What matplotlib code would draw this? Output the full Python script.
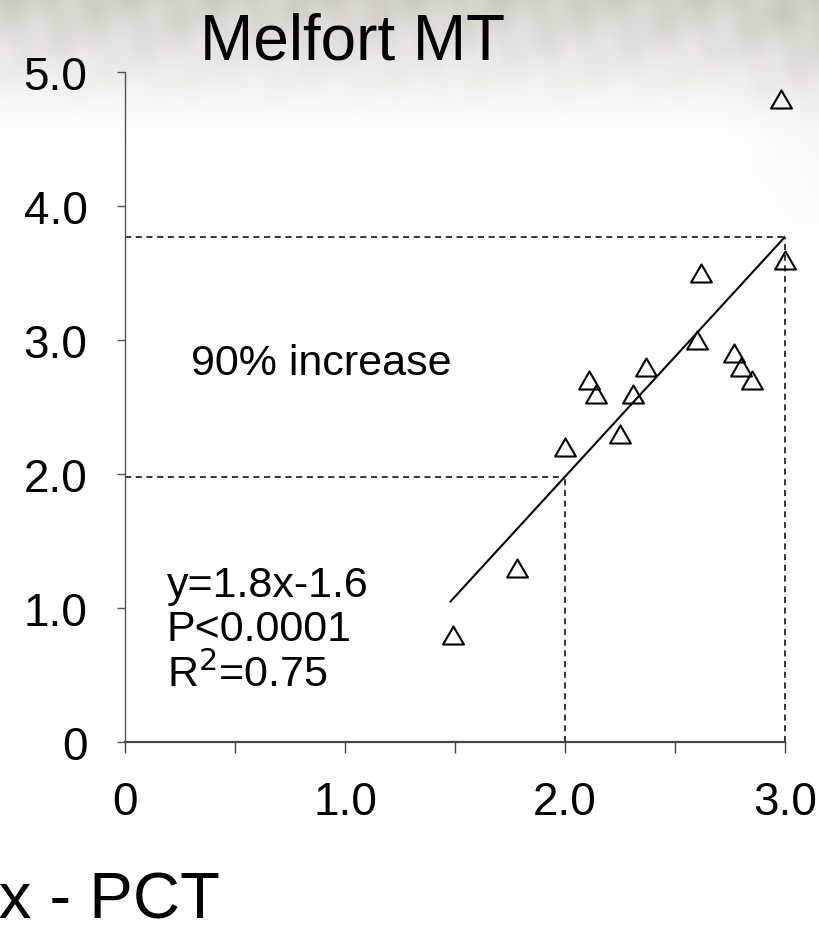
import matplotlib
matplotlib.use("Agg")
import matplotlib.pyplot as plt
from matplotlib.path import Path
import numpy as np

plt.rcParams['font.family'] = ['Liberation Sans', 'DejaVu Sans']

pct_index = [1.49, 1.78, 2.00, 2.11, 2.14, 2.25, 2.31, 2.37, 2.60, 2.62, 2.77, 2.80, 2.85, 2.98, 3.00]
response = [0.80, 1.30, 2.20, 2.70, 2.60, 2.30, 2.60, 2.80, 3.00, 3.50, 2.90, 2.80, 2.70, 4.80, 3.60]

slope, intercept = 1.79, -1.60
fit_x = [1.48, 3.00]
ref_x = [2.0, 3.0]

x_ticks = [0, 1, 2, 3]
x_labels = ['0', '1.0', '2.0', '3.0']
x_minor = [0.5, 1.5, 2.5]
y_ticks = [0, 1, 2, 3, 4, 5]
y_labels = ['0', '1.0', '2.0', '3.0', '4.0', '5.0']

title = 'Melfort MT'
xlabel = 'Index - PCT'
stats = 'y=1.8x-1.6\nP<0.0001\nR$^{2}$=0.75'
note = '90% increase'


fig = plt.figure(figsize=(8.2, 9.29), dpi=100, facecolor='white')

# faded photo-like band at the top of the slide
bg = fig.add_axes([0, 0, 1, 1], zorder=-5)
h, w = 929, 820
yy = np.linspace(0, 1, h)[:, None]
xx = np.linspace(0, 1, w)[None, :]
fade = np.clip(1 - yy / 0.15, 0, 1) ** 1.3
fade = fade + 0.30 * np.clip(1 - yy / 0.28, 0, 1) * np.clip((xx - 0.88) / 0.12, 0, 1)
fade = np.clip(fade, 0, 1)
streaks = 0.5 + 0.5 * np.sin(xx * 90 + yy * 25) * np.cos(xx * 37 - yy * 60)
gray = np.array([0.80, 0.78, 0.75])
amt = fade * (0.75 + 0.25 * streaks)
img = 1 - amt[..., None] * (1 - gray[None, None, :])
bg.imshow(img, aspect='auto', extent=[0, 1, 0, 1])
bg.axis('off')

ax = fig.add_axes([0.1524, 0.2002, 0.8049, 0.7212])
ax.set_facecolor('none')

ax.set_xlim(0, 3)
ax.set_ylim(0, 5)

# dashed reference lines from the fitted line
ref_y = [slope * v + intercept for v in ref_x]
for rx, ry in zip(ref_x, ref_y):
    ax.plot([0, rx], [ry, ry], color='black', lw=1.1, ls=(0, (4, 3)), clip_on=False)
    ax.plot([rx, rx], [0, ry], color='black', lw=1.1, ls=(0, (4, 3)), clip_on=False)

fit_y = [slope * v + intercept for v in fit_x]
ax.plot(fit_x, fit_y, color='black', lw=1.5)

tri = Path([(-1, -0.866), (1, -0.866), (0, 0.866), (-1, -0.866)], closed=True)
ax.plot(pct_index, response, ls='none', marker=tri, markersize=15,
        markerfacecolor='none', markeredgecolor='black', markeredgewidth=1.5,
        clip_on=False)

for s in ['top', 'right']:
    ax.spines[s].set_visible(False)
ax.spines['left'].set_color('#555555')
ax.spines['left'].set_linewidth(1.0)
ax.spines['bottom'].set_color('#444444')
ax.spines['bottom'].set_linewidth(1.6)

ax.set_xticks(x_ticks)
ax.set_xticklabels(x_labels)
ax.set_xticks(x_minor, minor=True)
ax.set_yticks(y_ticks)
ax.set_yticklabels(y_labels)
ax.tick_params(axis='x', which='both', direction='out', length=8, width=1.0,
               color='#444444', pad=19, labelsize=33)
ax.tick_params(axis='y', direction='out', length=6, width=1.0,
               color='#555555', pad=21, labelsize=33)

ax.text(0.30, 2.746, note, fontsize=31, ha='left', va='baseline')
ax.text(0.19, 1.32, stats, fontsize=31, ha='left', va='top', linespacing=1.12)

fig.text(353 / 820, 1 - 60 / 929, title, fontsize=46, ha='center', va='baseline')
fig.text(220 / 820, 1 - 918 / 929, xlabel, fontsize=47, ha='right', va='baseline')

fig.savefig('out.png', dpi=100)
